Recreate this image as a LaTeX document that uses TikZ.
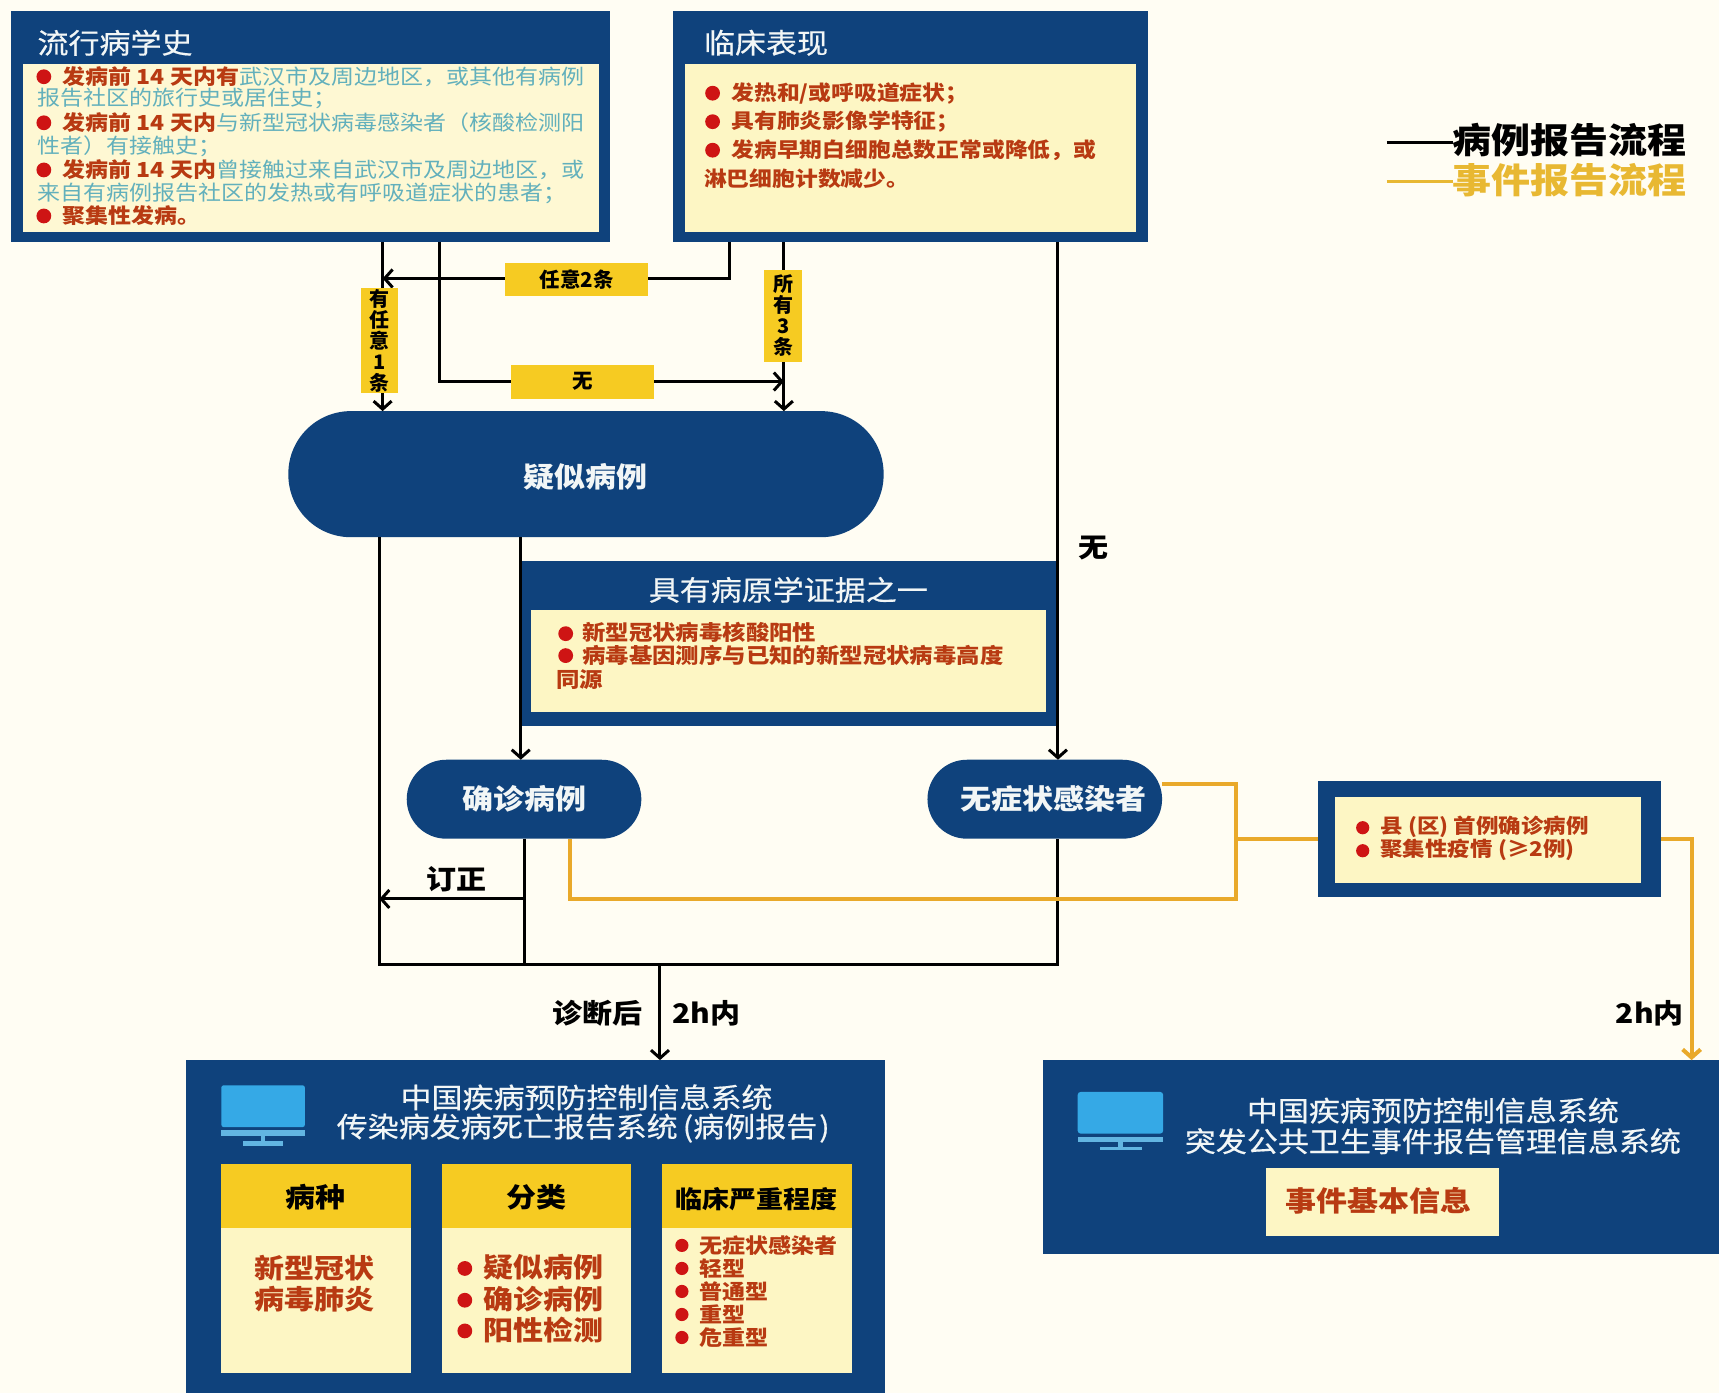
\documentclass[tikz,border=0pt]{standalone}
\usepackage{fontspec}
\setmainfont{Noto Sans CJK SC}
\newfontfamily\medf{Noto Sans CJK SC}[FakeBold=0.5]
\usetikzlibrary{arrows.meta,fit}
\definecolor{bgc}{HTML}{FFFDF3}
\definecolor{navy}{HTML}{0F427C}
\definecolor{cream}{HTML}{FDF6C4}
\definecolor{goldc}{HTML}{F6CB22}
\definecolor{redt}{HTML}{B83A12}
\definecolor{tealt}{HTML}{62B0BC}
\definecolor{bulc}{HTML}{CE1414}
\definecolor{orangec}{HTML}{E9A92A}
\definecolor{legc}{HTML}{E8B832}
\definecolor{screenc}{HTML}{35A9E6}
\definecolor{stripc}{HTML}{62B5E2}
\definecolor{whitet}{HTML}{F2F6F6}
\newcommand\mkbox[6]{%
  \coordinate (#1-a) at (#2,#3);
  \coordinate (#1-b) at (#4,#5);
  \node[fit=(#1-a)(#1-b),inner sep=0pt,outer sep=0pt,#6] (#1) {};}
\newcommand\bul[2]{\fill[bulc] (#1,#2) circle[radius=7.4pt];}
\newcommand\smallbul[2]{\fill[bulc] (#1,#2) circle[radius=6.6pt];}
\tikzset{
  fs/.style={font=\fontsize{#1}{#1}\selectfont},
  fsb/.style={font=\fontsize{#1}{#1}\selectfont\bfseries},
  fsm/.style={font=\fontsize{#1}{#1}\selectfont\medf},
  txt/.style={inner sep=0pt,anchor=west,transform shape,yscale=.9},
  ctr/.style={inner sep=0pt,anchor=center,transform shape,yscale=.9},
  navybox/.style={fill=navy},
  creambox/.style={fill=cream},
  goldbox/.style={fill=goldc},
  ln/.style={draw=black,line width=3pt},
  oln/.style={draw=orangec,line width=4pt},
  arr/.style={-{Straight Barb[length=8pt,width=18pt]}},
  redb/.style={text=redt},
  wht/.style={text=whitet},
  pillbox/.style={fill=navy,rounded corners=#1},
  vlabel/.style={fill=goldc,inner sep=0pt,align=center,font=\fontsize{20}{21}\selectfont\bfseries},
  hlabel/.style={fill=goldc,inner sep=0pt,font=\fontsize{20.5}{20.5}\selectfont\bfseries},
}
\begin{document}
\begin{tikzpicture}[x=1.0963pt,y=-1.0963pt]
\useasboundingbox (0,0) rectangle (1568,1271);
\fill[bgc] (0,0) rectangle (1568,1271);

% boxes
\mkbox{epi}{10}{10}{556}{221}{navybox}
\mkbox{epiin}{21}{58}{546}{212}{fill=cream!75!white}
\mkbox{clin}{614}{10}{1047}{221}{navybox}
\mkbox{clinin}{625}{58}{1036}{212}{creambox}
\mkbox{sus}{263}{375}{806}{490}{pillbox=62.5pt}
\mkbox{evid}{475}{512}{965}{662}{navybox}
\mkbox{evidin}{484}{556}{954}{649}{creambox}
\mkbox{conf}{371}{693}{585}{765}{pillbox=39.4pt}
\mkbox{noinf}{846}{693}{1060}{765}{pillbox=39.4pt}
\mkbox{evt}{1202}{712}{1515}{818}{navybox}
\mkbox{evtin}{1218}{727}{1497}{805}{creambox}
\mkbox{cdc}{170}{967}{807}{1271}{navybox}
\mkbox{sys}{951}{967}{1568}{1144}{navybox}
\mkbox{sysin}{1155}{1065}{1367}{1127}{creambox}
% cards
\mkbox{c1}{202}{1062}{375}{1252}{creambox}
\mkbox{c1h}{202}{1062}{375}{1120}{goldbox}
\mkbox{c2}{403}{1062}{576}{1252}{creambox}
\mkbox{c2h}{403}{1062}{576}{1120}{goldbox}
\mkbox{c3}{604}{1062}{777}{1252}{creambox}
\mkbox{c3h}{604}{1062}{777}{1120}{goldbox}

% guide points of the connectors
\coordinate (gA) at (349,254);
\coordinate (gB) at (665,254);
\coordinate (gC) at (401,348);
\coordinate (gD) at (715,348);
\coordinate (gE) at (965,500);
\coordinate (gF) at (475,600);
\coordinate (gG) at (346,880);
\coordinate (gH) at (965,880);
\coordinate (gI) at (478,820);
\coordinate (gJ) at (602,880);
\coordinate (gK) at (1127,715);
\coordinate (gL) at (1127,820);
\coordinate (gM) at (520,820);
\coordinate (gN) at (1127,765);
\coordinate (gO) at (1543,765);

% black connectors
\draw[ln,arr] (epi.south -| gA) -- (gA |- sus.north);
\draw[ln,arr] (clin.south -| gB) -- (gB) -- (gA);
\draw[ln,arr] (epi.south -| gC) -- (gC) -- (gD);
\draw[ln,arr] (clin.south -| gD) -- (gD |- sus.north);
\draw[ln,arr] (clin.south -| gE) -- (gE |- noinf.north);
\draw[ln,arr] (sus.south -| gF) -- (gF |- conf.north);
\draw[ln] (sus.south -| gG) -- (gG) -- (gH) -- (noinf.south -| gH);
\draw[ln] (conf.south -| gI) -- (gI |- gG);
\draw[ln,arr] (gI) -- (gI -| gG);
\draw[ln,arr] (gJ) -- (gJ |- cdc.north);
% orange connectors
\draw[oln] (noinf.east |- gK) -- (gK) -- (gL) -- (gM) -- (gM |- conf.south);
\draw[oln] (gN) -- (evt.west);
\draw[oln,arr] (evt.east) -- (gO) -- (gO |- sys.north);

% yellow labels
\node[hlabel,minimum width=143pt,minimum height=33pt] (lb2) at (526,255) {任意2条};
\node[hlabel,minimum width=143pt,minimum height=34pt] (lbn) at (531.5,348) {无};
\node[vlabel,minimum width=37pt,minimum height=105pt] (lb1) at (346,311) {有\\任\\意\\1\\条};
\node[vlabel,minimum width=38pt,minimum height=92pt] (lb3) at (714.5,288) {所\\有\\3\\条};

% epidemiology
\node[txt,fsm=31,wht] (t1) at (34,39) {流行病学史};
\bul{40}{70}\bul{40}{112}\bul{40}{155}\bul{40}{197}
\node[txt,fsb=23,redb] (e1) at (57,70) {发病前 14 天内有\textcolor{tealt}{\mdseries 武汉市及周边地区，或其他有病例}};
\node[txt,fs=23,text=tealt] (e2) at (34,90) {报告社区的旅行史或居住史；};
\node[txt,fsb=23,redb] (e3) at (57,112) {发病前 14 天内\textcolor{tealt}{\mdseries 与新型冠状病毒感染者（核酸检测阳}};
\node[txt,fs=23,text=tealt] (e4) at (34,133) {性者）有接触史；};
\node[txt,fsb=23,redb] (e5) at (57,155) {发病前 14 天内\textcolor{tealt}{\mdseries 曾接触过来自武汉市及周边地区，或}};
\node[txt,fs=23,text=tealt] (e6) at (34,176) {来自有病例报告社区的发热或有呼吸道症状的患者；};
\node[txt,fsb=23,redb] (e7) at (57,197) {聚集性发病。};

% clinical
\node[txt,fsm=31,wht] (t2) at (642,39) {临床表现};
\bul{650}{85}\bul{650}{111}\bul{650}{137}
\node[txt,fsb=22.8,redb] (m1) at (667,85) {发热和/或呼吸道症状；};
\node[txt,fsb=22.8,redb] (m2) at (667,111) {具有肺炎影像学特征；};
\node[txt,fsb=22.8,redb] (m3) at (667,137) {发病早期白细胞总数正常或降低，或};
\node[txt,fsb=22.8,redb] (m4) at (642,163) {淋巴细胞计数减少。};

% legend
\node[txt,fsb=39,text=black] (leg1) at (1325,128) {病例报告流程};
\node[txt,fsb=39,text=legc] (leg2) at (1325,164) {事件报告流程};
\coordinate (lg1) at (1265,130);
\coordinate (lg2) at (1265,166);
\draw[black,line width=3pt] (lg1) -- (leg1.west |- lg1);
\draw[legc,line width=3pt] (lg2) -- (leg2.west |- lg2);

% pills
\node[ctr,fsb=31,wht] (p1) at (534,435) {疑似病例};
\node[ctr,fsb=31,wht] (p2) at (478,729) {确诊病例};
\node[ctr,fsb=31,wht] (p3) at (961,729) {无症状感染者};

% evidence
\node[ctr,fsm=31,wht] (t3) at (719,538) {具有病原学证据之一};
\bul{516}{578}\bul{516}{598}
\node[txt,fsb=23.4,redb] (v1) at (531,577) {新型冠状病毒核酸阳性};
\node[txt,fsb=23.4,redb] (v2) at (531,598) {病毒基因测序与已知的新型冠状病毒高度};
\node[txt,fsb=23.4,redb] (v3) at (507,620) {同源};

% free labels
\node[ctr,fsb=30] (w1) at (997,500) {无};
\node[ctr,fsb=30] (w2) at (416,802) {订正};
\node[ctr,fsb=30] (w3) at (545,924) {诊断后};
\node[ctr,fsb=30] (w4) at (644,924) {2h内};
\node[ctr,fsb=30] (w5) at (1505,924) {2h内};

% event criteria
\smallbul{1243}{755}\smallbul{1243}{776}
\node[txt,fsb=22.5,redb] (k1) at (1259,754) {县 (区) 首例确诊病例};
\node[txt,fsb=22.5,redb] (k2) at (1259,775) {聚集性疫情 (≥2例)};

% left system
\fill[screenc,rounded corners=2pt] (202,990) rectangle (278,1028);
\fill[stripc] (202,1031) rectangle (278,1036);
\fill[stripc] (238,1036) rectangle (242,1042);
\fill[stripc] (222,1041) rectangle (258,1045);
\node[ctr,fsm=31,wht] (s1) at (535,1001) {中国疾病预防控制信息系统};
\node[ctr,fsm=31,wht] (s2) at (532,1029) {传染病发病死亡报告系统\hspace{5pt}(病例报告\hspace{2pt})};
\node[ctr,fsb=30] (h1) at (288,1092) {病种};
\node[ctr,fsb=30] (h2) at (489,1092) {分类};
\node[ctr,fsb=27] (h3) at (690,1094) {临床严重程度};
\node[ctr,fsb=30,redb] (c1a) at (287,1157) {新型冠状};
\node[ctr,fsb=30,redb] (c1b) at (287,1185) {病毒肺炎};
\bul{424}{1157}\bul{424}{1186}\bul{424}{1214}
\node[txt,fsb=30,redb] (c2a) at (441,1156) {疑似病例};
\node[txt,fsb=30,redb] (c2b) at (441,1185) {确诊病例};
\node[txt,fsb=30,redb] (c2c) at (441,1213) {阳性检测};
\smallbul{622}{1136}\smallbul{622}{1157}\smallbul{622}{1178}\smallbul{622}{1199}\smallbul{622}{1220}
\node[txt,fsb=23,redb] (c3a) at (638,1136) {无症状感染者};
\node[txt,fsb=23,redb] (c3b) at (638,1157) {轻型};
\node[txt,fsb=23,redb] (c3c) at (638,1178) {普通型};
\node[txt,fsb=23,redb] (c3d) at (638,1199) {重型};
\node[txt,fsb=23,redb] (c3e) at (638,1220) {危重型};

% right system
\fill[screenc,rounded corners=3pt] (983,996) rectangle (1061,1034);
\fill[stripc] (983,1037) rectangle (1061,1042);
\fill[stripc] (1020,1042) rectangle (1024,1047);
\fill[stripc] (1003,1046) rectangle (1042,1049);
\node[ctr,fsm=31,wht] (r1) at (1307,1013) {中国疾病预防控制信息系统};
\node[ctr,fsm=31,wht] (r2) at (1307,1041) {突发公共卫生事件报告管理信息系统};
\node[ctr,fsb=31,redb] (r3) at (1257,1095) {事件基本信息};
\end{tikzpicture}
\end{document}
